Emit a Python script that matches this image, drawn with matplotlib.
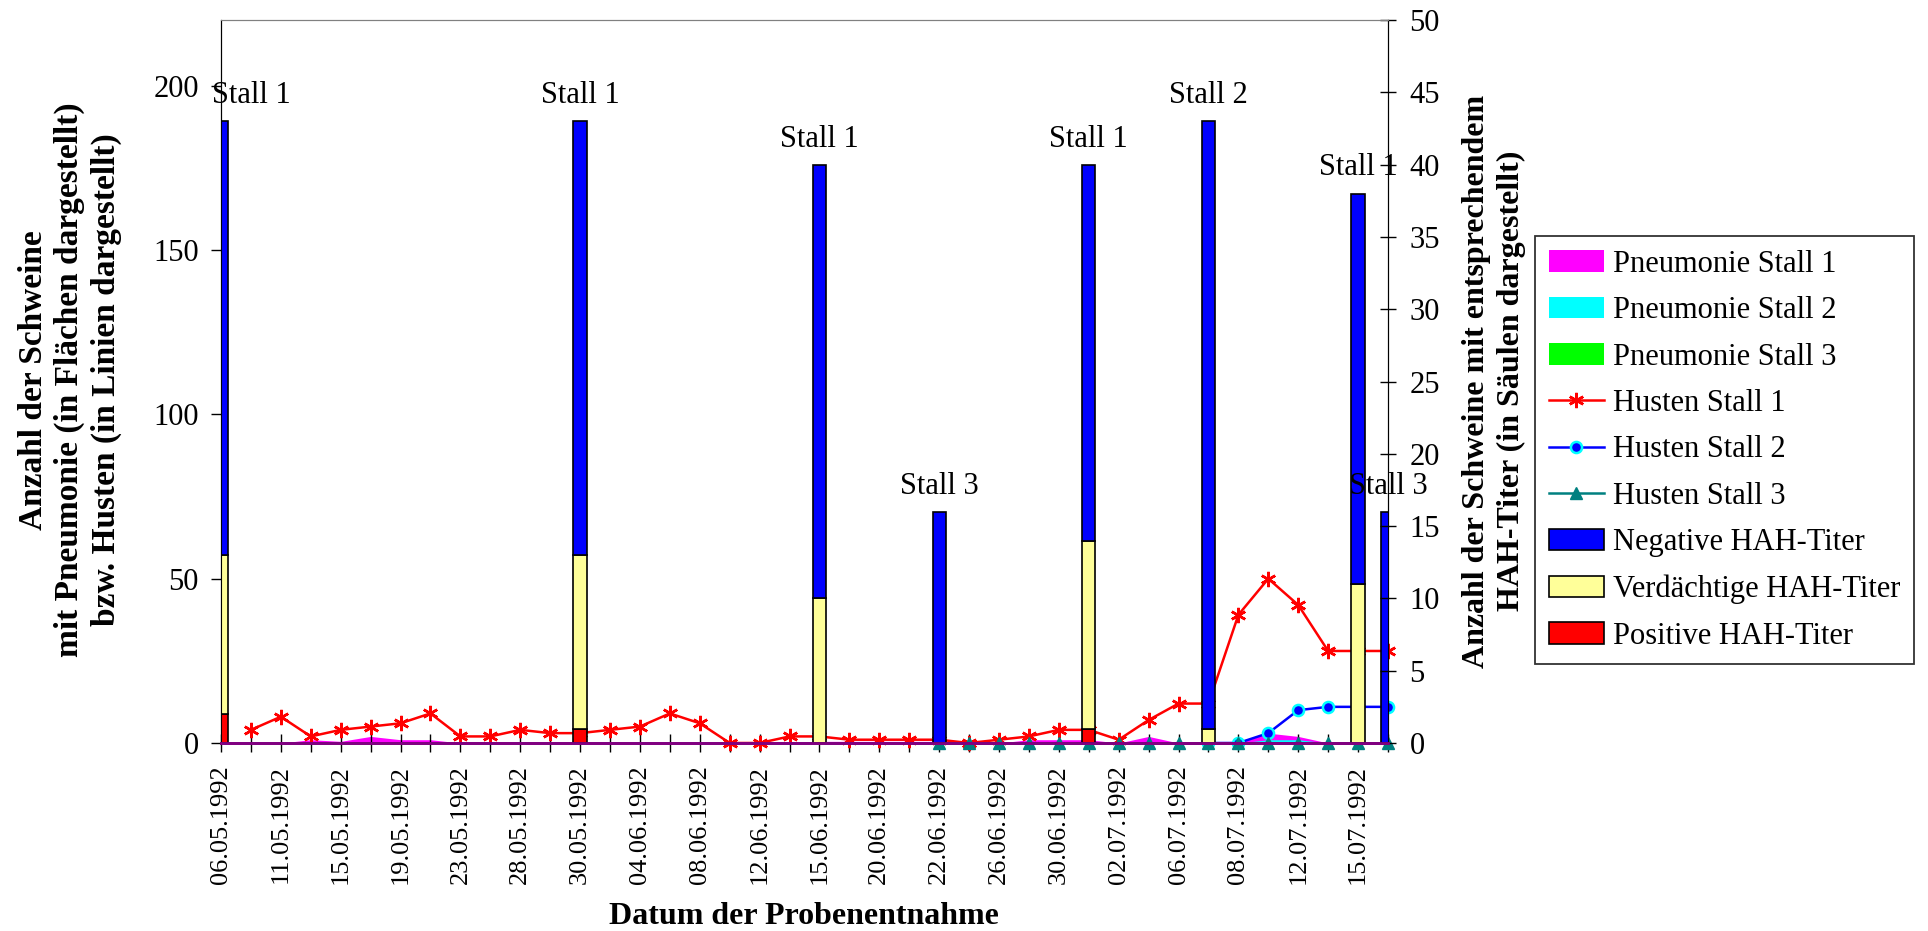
import numpy as np
import matplotlib
matplotlib.use('Agg')
import matplotlib.pyplot as plt
from matplotlib.patches import Patch
from matplotlib.lines import Line2D

nan = np.nan

# every second sampling date is labelled on the axis
dates = ['06.05.1992', '11.05.1992', '15.05.1992', '19.05.1992', '23.05.1992',
         '28.05.1992', '30.05.1992', '04.06.1992', '08.06.1992', '12.06.1992',
         '15.06.1992', '20.06.1992', '22.06.1992', '26.06.1992', '30.06.1992',
         '02.07.1992', '06.07.1992', '08.07.1992', '12.07.1992', '15.07.1992']
n_samples = 40

# left axis: pigs with pneumonia (areas) / coughing (lines)
pneu_stall1 = [0, 0, 0, 1, 0.5, 2, 1, 1, 0, 0, 0, 0, 0, 0, 0, 0, 0, 0, 0, 0,
               0.5, 0.5, 0.5, 0.5, 0.5, 0, 0, 1, 1, 1, 0, 2, 0, 0, 0, 3, 2, 0, 0, 0]
pneu_stall2 = [nan] * 33 + [0, 0, 1, 1, 0, 0, 0]
pneu_stall3 = [nan] * 24 + [0] * 16
husten_stall1 = [nan, 4, 8, 2, 4, 5, 6, 9, 2, 2, 4, 3, 3, 4, 5, 9, 6, 0, 0, 2,
                 2, 1, 1, 1, 1, 0, 1, 2, 4, 4, 1, 7, 12, 12, 39, 50, 42, 28, 28, 28]
husten_stall2 = [nan] * 33 + [0, 0, 3, 10, 11, 11, 11]
husten_stall3 = [nan] * 24 + [0] * 16

# right axis: HAH titre columns
bar_pos = [0, 12, 20, 24, 29, 33, 38, 39]
bar_stall = ['Stall 1', 'Stall 1', 'Stall 1', 'Stall 3', 'Stall 1', 'Stall 2', 'Stall 1', 'Stall 3']
titer_pos = [2, 1, 0, 0, 1, 0, 0, 0]
titer_susp = [11, 12, 10, 0, 13, 1, 11, 0]
titer_neg = [30, 30, 30, 16, 26, 42, 27, 16]


def plot_chart():
    plt.rcParams['font.family'] = 'Liberation Serif'
    fig = plt.figure(figsize=(19.28, 9.31), dpi=100)
    ax = fig.add_axes([221 / 1928, 1 - 743 / 931, 1167 / 1928, 723 / 931])
    ax2 = ax.twinx()
    x = np.arange(n_samples)

    # areas + lines on the left axis
    ax.fill_between(x, 0, pneu_stall1, color='#FF00FF', lw=0)
    ax.fill_between(x, 0, pneu_stall2, color='#00FFFF', lw=0)
    ax.fill_between(x, 0, pneu_stall3, color='#00FF00', lw=0)
    ax.plot(x, husten_stall1, color='red', lw=1.8, marker=(6, 2, 0), ms=11, mew=1.8, clip_on=False)
    ax.plot(x, husten_stall2, color='blue', lw=1.8, marker='o', ms=8, mfc='blue', mec='cyan', mew=1.8, clip_on=False)
    ax.plot(x, husten_stall3, color='#008080', lw=1.8, marker='^', ms=9, clip_on=False)

    ax.set_xlim(0, n_samples - 1)
    ax.set_ylim(0, 220)
    ax.set_yticks(range(0, 201, 50))
    ax.set_xticks(x)
    labels = []
    for i in range(n_samples):
        labels.append(dates[i // 2] if i % 2 == 0 else '')
    ax.set_xticklabels(labels, rotation=90, fontsize=19)
    ax.tick_params(axis='x', direction='inout', length=13.5, width=1, pad=9)
    ax.tick_params(axis='y', direction='out', length=7, width=1, labelsize=22, pad=9)

    # stacked columns on the right axis
    width = 0.44
    bx = np.array(bar_pos)
    pos = np.array(titer_pos)
    susp = np.array(titer_susp)
    neg = np.array(titer_neg)
    ax2.bar(bx, pos, width, color='#FF0000', edgecolor='black', lw=1.2)
    ax2.bar(bx, susp, width, bottom=pos, color='#FFFF99', edgecolor='black', lw=1.2)
    ax2.bar(bx, neg, width, bottom=pos + susp, color='#0000FF', edgecolor='black', lw=1.2)
    for i, name in enumerate(bar_stall):
        dx = 22 if i == 0 else 0
        ax2.annotate(name, (bx[i], pos[i] + susp[i] + neg[i]), xytext=(dx, 13),
                     textcoords='offset points', ha='center', va='baseline',
                     fontsize=22, annotation_clip=False)
    ax2.set_ylim(0, 50)
    ax2.set_yticks(range(0, 51, 5))
    ax2.tick_params(axis='y', direction='inout', length=11, width=1, labelsize=22, pad=10)

    for a in (ax, ax2):
        a.spines['top'].set_color('#808080')
        a.spines['bottom'].set_color('#800080')
        a.spines['bottom'].set_linewidth(2)
        a.spines['left'].set_color('black')
        a.spines['right'].set_color('black')

    fig.text(70 / 1928, 1 - 380 / 931,
             'Anzahl der Schweine\nmit Pneumonie (in Flächen dargestellt)\nbzw. Husten (in Linien dargestellt)',
             rotation=90, ha='center', va='center', multialignment='center',
             fontsize=24, fontweight='bold', linespacing=1.2)
    fig.text(1494 / 1928, 1 - 381 / 931,
             'Anzahl der Schweine mit entsprechendem\nHAH-Titer (in Säulen dargestellt)',
             rotation=90, ha='center', va='center', multialignment='center',
             fontsize=23, fontweight='bold', linespacing=1.25)
    fig.text(804 / 1928, 1 - 916 / 931, 'Datum der Probenentnahme',
             ha='center', va='center', fontsize=23, fontweight='bold')

    handles = [
        Patch(facecolor='#FF00FF', edgecolor='none'),
        Patch(facecolor='#00FFFF', edgecolor='none'),
        Patch(facecolor='#00FF00', edgecolor='none'),
        Line2D([], [], color='red', lw=1.8, marker=(6, 2, 0), ms=11, mew=1.8),
        Line2D([], [], color='blue', lw=1.8, marker='o', ms=8, mfc='blue', mec='cyan', mew=1.8),
        Line2D([], [], color='#008080', lw=1.8, marker='^', ms=9),
        Patch(facecolor='#0000FF', edgecolor='black', lw=1.2),
        Patch(facecolor='#FFFF99', edgecolor='black', lw=1.2),
        Patch(facecolor='#FF0000', edgecolor='black', lw=1.2),
    ]
    names = ['Pneumonie Stall 1', 'Pneumonie Stall 2', 'Pneumonie Stall 3',
             'Husten Stall 1', 'Husten Stall 2', 'Husten Stall 3',
             'Negative HAH-Titer', 'Verdächtige HAH-Titer', 'Positive HAH-Titer']
    leg = fig.legend(handles, names, loc='upper left',
                     bbox_to_anchor=(1535 / 1928, 1 - 236 / 931), borderaxespad=0,
                     fontsize=22, frameon=True, fancybox=False, edgecolor='black',
                     handlelength=1.8, handleheight=0.7, handletextpad=0.3,
                     borderpad=0.45, labelspacing=0.57)
    leg.get_frame().set_linewidth(1.3)

    fig.savefig('out.png', dpi=100)


if __name__ == '__main__':
    plot_chart()
